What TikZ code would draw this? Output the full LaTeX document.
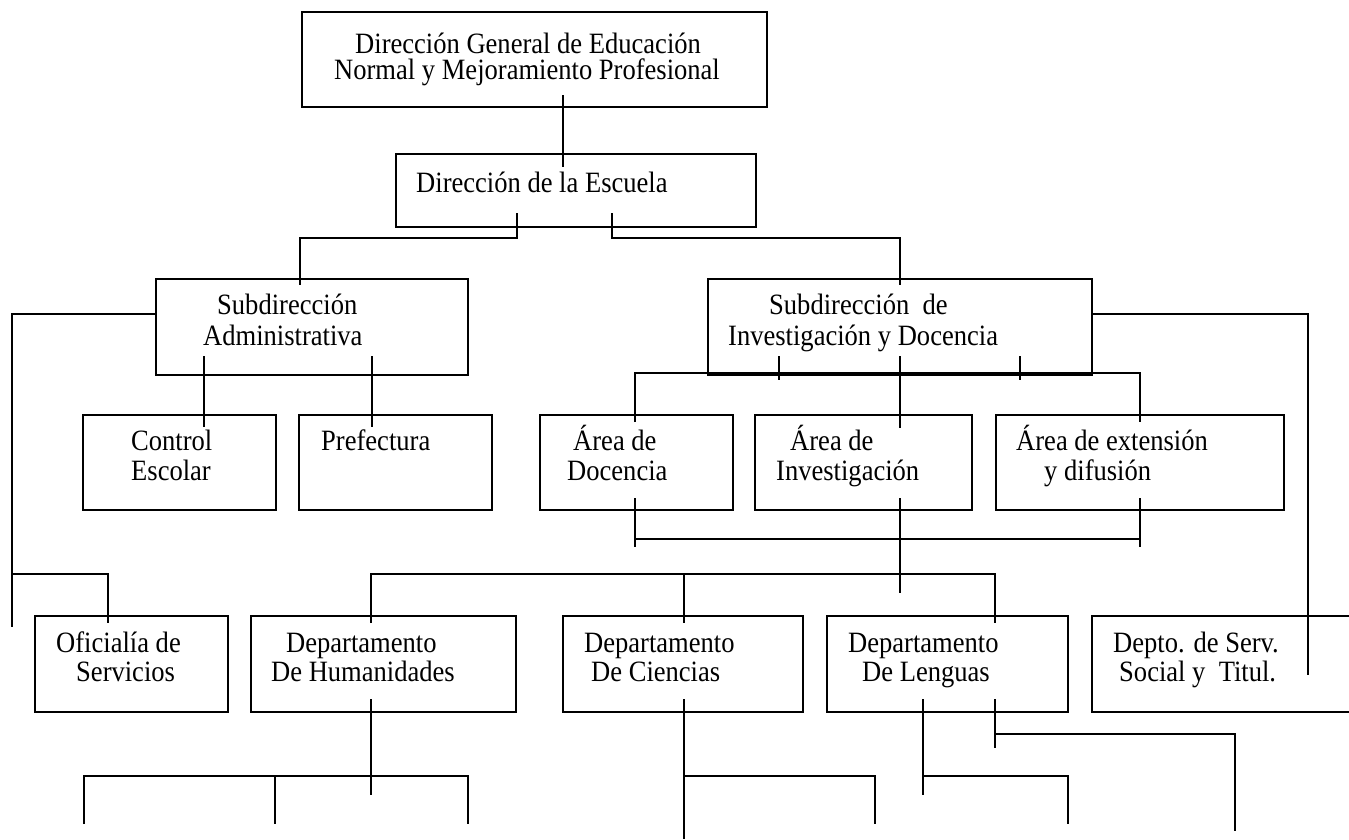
\documentclass[tikz,border=0pt]{standalone}
\usepackage{fontspec}
\setmainfont{Liberation Serif}[FakeStretch=0.9]
\begin{document}
\begin{tikzpicture}[x=1pt,y=-1pt,
  box/.style={draw=black, line width=2.2pt, inner sep=0pt, rectangle},
  conn/.style={draw=black, line width=1.8pt},
  txt/.style={anchor=base west, inner sep=0pt, font=\fontsize{29.5}{30}\selectfont}]
\clip (0,0) rectangle (1349,839);
\fill[white] (0,0) rectangle (1349,839);
% ---------- boxes ----------
\node[box, minimum width=465pt, minimum height=95pt] (top)  at (534.5,59.5) {};
\node[box, minimum width=360pt, minimum height=73pt] (esc)  at (576,190.5) {};
\node[box, minimum width=312pt, minimum height=96pt] (sa)   at (312,327) {};
\node[box, minimum width=384pt, minimum height=96pt] (sid)  at (900,327) {};
\node[box, minimum width=193pt, minimum height=95pt] (ctrl) at (179.5,462.5) {};
\node[box, minimum width=193pt, minimum height=95pt] (pref) at (395.5,462.5) {};
\node[box, minimum width=193pt, minimum height=95pt] (adoc) at (636.5,462.5) {};
\node[box, minimum width=217pt, minimum height=95pt] (ainv) at (863.5,462.5) {};
\node[box, minimum width=288pt, minimum height=95pt] (aext) at (1140,462.5) {};
\node[box, minimum width=193pt, minimum height=96pt] (ofi)  at (131.5,664) {};
\node[box, minimum width=265pt, minimum height=96pt] (hum)  at (383.5,664) {};
\node[box, minimum width=240pt, minimum height=96pt] (cie)  at (683,664) {};
\node[box, minimum width=241pt, minimum height=96pt] (len)  at (947.5,664) {};
\node[box, minimum width=290pt, minimum height=96pt] (dss)  at (1237,664) {};
% ---------- texts ----------
\node[txt, font=\fontsize{29.5}{20}\selectfont] (t1) at (334,53)
  {\begin{tabular}[t]{@{}l@{}}\hspace*{21pt}Dirección General de Educación\\Normal y Mejoramiento Profesional\end{tabular}};
\node[txt] (t2)  at (416,192) {Dirección de la Escuela};
\node[txt] (t3a) at (217,314) {Subdirección};
\node[txt] (t3b) at (203,345) {Administrativa};
\node[txt] (t4a) at (769,314) {Subdirección\ \ de};
\node[txt] (t4b) at (728,345) {Investigación y Docencia};
\node[txt] (t5a) at (131,450) {Control};
\node[txt] (t5b) at (131,480) {Escolar};
\node[txt] (t6)  at (321,450) {Prefectura};
\node[txt] (t7a) at (573,450) {Área de};
\node[txt] (t7b) at (567,480) {Docencia};
\node[txt] (t8a) at (790,450) {Área de};
\node[txt] (t8b) at (776,480) {Investigación};
\node[txt] (t9a) at (1016,450) {Área de extensión};
\node[txt] (t9b) at (1044,480) {y difusión};
\node[txt] (t10a) at (56,652) {Oficialía de};
\node[txt] (t10b) at (76,681) {Servicios};
\node[txt] (t11a) at (286,652) {Departamento};
\node[txt] (t11b) at (271,681) {De Humanidades};
\node[txt] (t12a) at (584,652) {Departamento};
\node[txt] (t12b) at (591,681) {De Ciencias};
\node[txt] (t13a) at (848,652) {Departamento};
\node[txt] (t13b) at (862,681) {De Lenguas};
\node[txt] (t14a) at (1113,652) {Depto. de Serv.};
\node[txt] (t14b) at (1119,681) {Social y\ \ Titul.};
% ---------- coordinates ----------
\coordinate (a1) at (563,95);   \coordinate (a2) at (563,167);
\coordinate (b1) at (517,213);  \coordinate (b2) at (517,238);
\coordinate (b3) at (300,238);  \coordinate (b4) at (300,285);
\coordinate (c1) at (612,213);  \coordinate (c2) at (612,238);
\coordinate (c3) at (900,238);  \coordinate (c4) at (900,285);
\coordinate (d1) at (12,314);   \coordinate (d2) at (12,627);
\coordinate (d3) at (12,574);   \coordinate (d4) at (108,574);
\coordinate (d5) at (108,623);
\coordinate (e1) at (204,356);  \coordinate (e2) at (204,427);
\coordinate (e3) at (372,356);  \coordinate (e4) at (372,427);
\coordinate (f1) at (1308,314); \coordinate (f2) at (1308,675);
\coordinate (g1) at (900,356);  \coordinate (g2) at (900,428);
\coordinate (g3) at (779,356);  \coordinate (g4) at (779,380);
\coordinate (g5) at (1020,356); \coordinate (g6) at (1020,380);
\coordinate (g7) at (635,373);  \coordinate (g8) at (1140,373);
\coordinate (g9) at (635,422);  \coordinate (g10) at (1140,422);
\coordinate (h1) at (635,498);  \coordinate (h2) at (635,547);
\coordinate (h3) at (900,498);  \coordinate (h4) at (900,593);
\coordinate (h5) at (1140,498); \coordinate (h6) at (1140,547);
\coordinate (h7) at (635,539);  \coordinate (h8) at (1140,539);
\coordinate (i1) at (371,574);  \coordinate (i2) at (995,574);
\coordinate (i3) at (371,623);  \coordinate (i4) at (684,574);
\coordinate (i5) at (684,623);  \coordinate (i6) at (995,623);
\coordinate (j1) at (371,699);  \coordinate (j2) at (371,795);
\coordinate (j3) at (84,776);   \coordinate (j4) at (468,776);
\coordinate (j5) at (84,824);   \coordinate (j6) at (275,776);
\coordinate (j7) at (275,824);  \coordinate (j8) at (468,824);
\coordinate (k1) at (684,699);  \coordinate (k2) at (684,839);
\coordinate (k3) at (684,776);  \coordinate (k4) at (875,776);
\coordinate (k5) at (875,824);
\coordinate (l1) at (923,699);  \coordinate (l2) at (923,795);
\coordinate (l3) at (923,776);  \coordinate (l4) at (1068,776);
\coordinate (l5) at (1068,824);
\coordinate (m1) at (995,699);  \coordinate (m2) at (995,748);
\coordinate (m3) at (995,734);  \coordinate (m4) at (1235,734);
\coordinate (m5) at (1235,831);
% ---------- connectors ----------
\draw[conn] (a1) -- (a2);
\draw[conn] (b1) -- (b2) -- (b3) -- (b4);
\draw[conn] (c1) -- (c2) -- (c3) -- (c4);
\draw[conn] (sa.west |- d1) -- (d1) -- (d2);
\draw[conn] (d3) -- (d4) -- (d5);
\draw[conn] (e1) -- (e2);
\draw[conn] (e3) -- (e4);
\draw[conn] (sid.east |- f1) -- (f1) -- (f2);
\draw[conn] (g1) -- (g2);
\draw[conn] (g3) -- (g4);
\draw[conn] (g5) -- (g6);
\draw[conn] (g9) -- (g7) -- (g8) -- (g10);
\draw[conn] (h1) -- (h2);
\draw[conn] (h3) -- (h4);
\draw[conn] (h5) -- (h6);
\draw[conn] (h7) -- (h8);
\draw[conn] (i3) -- (i1) -- (i2) -- (i6);
\draw[conn] (i4) -- (i5);
\draw[conn] (j1) -- (j2);
\draw[conn] (j5) -- (j3) -- (j4) -- (j8);
\draw[conn] (j6) -- (j7);
\draw[conn] (k1) -- (k2);
\draw[conn] (k3) -- (k4) -- (k5);
\draw[conn] (l1) -- (l2);
\draw[conn] (l3) -- (l4) -- (l5);
\draw[conn] (m1) -- (m2);
\draw[conn] (m3) -- (m4) -- (m5);
\end{tikzpicture}
\end{document}
